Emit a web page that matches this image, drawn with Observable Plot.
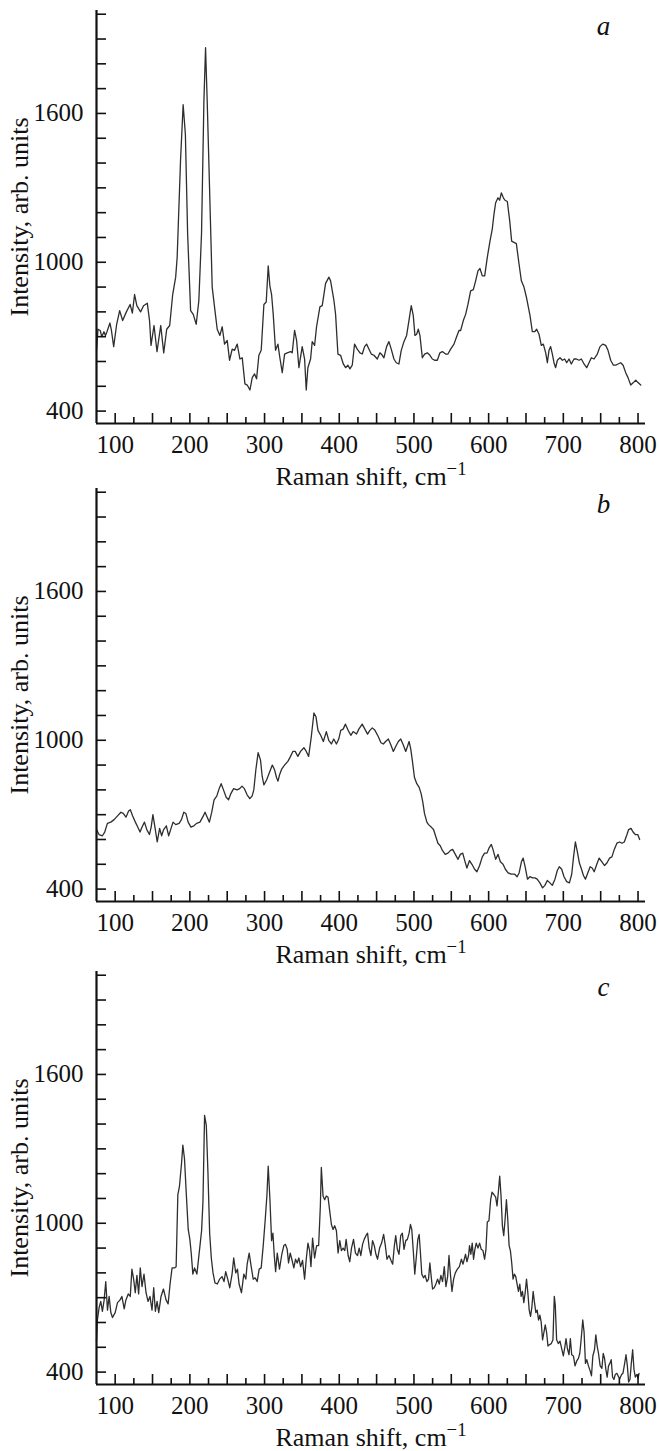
<!DOCTYPE html>
<html><head><meta charset="utf-8">
<script src="https://cdn.jsdelivr.net/npm/d3@7"></script>
<script src="https://cdn.jsdelivr.net/npm/@observablehq/plot@0.6"></script>
<style>
html,body{margin:0;padding:0;background:#fff;}
#wrap{position:relative;width:659px;height:1451px;overflow:hidden;background:#fff;}
.panel{position:absolute;left:0;width:659px;}
.panel svg, .panel svg text{font-family:"Liberation Serif","Times New Roman",serif;}
</style></head><body><div id="wrap"></div>
<script>
const shiftDomain = [75, 810];
const intensityDomain = [350, 2015];
const xTicksMajor = [100,150,200,250,300,350,400,450,500,550,600,650,700,750,800];
const xTicksMinor = [125,175,225,275,325,375,425,475,525,575,625,675,725,775];
const xTickLabels = [100,200,300,400,500,600,700,800];
const yTicks = [400,500,600,700,800,900,1000,1100,1200,1300,1400,1500,1600,1700,1800,1900,2000];
const yTickLabels = [400,1000,1600];
const panelLabels = ["a","b","c"];
const xTitleBase = "Raman shift, cm";
const xTitleSup = "−1";
const yTitle = "Intensity, arb. units";

const aShift = [75,77,80,82,85,87,89,93,95,98,102,106,110,115,120,123,126,129,134,138,143,146,148,152,156,161,165,169,173,177,181,183,187.5,191,194,197,201,204.5,208.5,212,215.6,218.8,221,223.2,226.8,229.9,233,236.6,240.2,243.3,246.4,250,253.1,256.7,259.8,263.4,267,270.1,273.7,276.8,280.4,283.5,286.6,289.3,292.4,295.5,299.1,302.2,304.9,307.1,309.4,311.6,314.7,317.9,320.5,323.7,326.8,330.4,334.8,337,340.2,342.9,346,350.4,353.6,355.8,358,361.6,363.8,367,369.6,374.1,377.2,381.7,386.2,388.4,392.9,395.1,398.2,401.8,405.4,408.5,411.6,414.3,417.4,420.5,424.1,427.7,430.8,433.9,436.6,439.7,442.9,446.4,450.9,454.5,457.6,459.8,463.4,466.5,469.6,473.2,476.3,479.9,483,486.6,490.2,493.3,496.4,499.1,501.3,503.6,505.8,508,511.2,514.3,517.9,521.4,524.6,527.7,531.3,534.8,538,542.4,545.5,549.1,553.6,557.1,560.3,562.5,566.1,569.2,572.3,575.9,579.5,582.6,585.7,588.4,591.5,594.7,598.2,601.8,604.9,607.2,609.4,612.5,614.7,617,619.7,621.9,625,628.1,630.8,633.9,637.1,640.6,643.8,647.3,650.5,653.1,655.4,658.5,661.6,664.3,667.4,670.5,673.2,676.4,678.6,680.8,683,685.3,687.5,689.7,692,695.5,698.7,701.8,704.5,707.6,710.7,714.3,717.4,721,724.1,727.7,731.3,734.4,737.5,741.1,745.5,749.1,752.7,756.7,759.8,763.4,767,770.1,773.2,776.8,780,783.5,786.6,790.2,793.8,796.9,800,803.6];
const aIntensity = [645,730,725,700,720,705,720,755,725,660,750,805,765,800,830,795,870,825,800,825,835,765,665,745,640,745,635,730,745,870,940,1020,1410,1635,1515,1115,805,790,750,845,1115,1650,1865,1650,1250,900,820,730,705,740,670,685,605,650,645,670,610,615,510,505,485,535,550,530,625,645,830,840,985,905,870,790,645,670,615,555,630,635,640,635,725,685,575,660,610,485,575,610,680,665,740,820,825,915,940,925,845,790,630,625,590,575,585,570,585,670,650,635,630,660,670,650,630,625,610,635,625,615,660,680,650,610,595,590,645,680,705,765,825,785,705,710,730,705,615,630,635,625,610,605,605,635,640,630,630,650,670,700,725,725,765,790,830,885,890,925,965,975,945,945,1020,1085,1135,1195,1240,1260,1250,1280,1260,1250,1245,1170,1085,1080,1075,995,925,900,860,820,785,720,720,730,710,665,670,635,595,645,660,630,595,575,605,615,605,610,595,610,590,610,610,605,610,590,575,595,615,610,630,660,670,665,645,605,585,585,590,595,585,555,535,505,515,525,515,505];

const bShift = [75,78.4,82.9,86,89.6,94.1,98.6,103.2,107.7,110.8,114.4,118,120.3,123.4,127,130.2,133.3,136,139.2,142.3,145.9,148.2,150.5,153.2,156.3,159.5,162.2,164.9,168.5,171.6,174.8,177.5,181.1,185.6,188.7,191.9,194.6,197.7,201.4,205.4,209,213.5,218,220.3,222.5,226.1,229.3,232.4,236,239.2,241.9,245,248.6,251.8,254.9,258.6,263.1,266.7,269.8,273,276.6,280.2,283.3,285.6,288.3,291.4,294.6,296.8,299.1,302.7,305.9,310.4,313.5,316,318,320,323.1,326.7,331.2,334.8,337.9,341,344.6,348.2,352.7,355.8,359,362.6,366.1,368.8,371.5,375.1,378.7,382.7,385.9,389.5,392.6,396.2,399.3,402,405.2,408.3,411.9,415.5,418.6,423.1,426.2,430.7,434.3,437.9,441,444.2,447.8,452.2,455.8,459,462.1,465.7,469.3,472.4,475.6,479.1,482.3,485.9,489,491.3,493.5,495.7,498,500.7,503.8,507,509.6,511.9,514.1,517.3,519.5,523.1,526.2,529.4,532.1,535.2,538.3,541.9,545.5,548.7,551.8,555.4,559,562.1,565.3,568,570.9,574.4,577.6,581.2,584.3,587.9,591.5,594.6,597.8,600.4,603.6,605.8,609.4,612.6,615.7,619.3,622.4,626,630.5,635,638.1,640.8,643.9,646.2,648.9,652,655.2,658.7,661.9,665,668.6,672.2,675.3,678.5,682.1,685.2,688.8,691.9,694.6,697.8,700.9,704.5,708.1,711.2,713.5,716.1,718.8,721.5,723.8,726.9,729.6,732.7,735.9,738.6,741.3,744.8,748,751.6,755.2,758.3,761.9,765,768.2,771.7,775.3,778.5,781.6,785.2,787.4,790.6,793.3,796.4,799.6,802.2];
const bIntensity = [640,620,615,630,665,670,680,695,710,705,690,715,720,695,670,650,630,650,670,640,620,650,700,650,590,645,615,640,655,615,645,670,660,665,680,710,705,670,650,655,665,670,695,710,695,670,710,760,775,805,825,800,770,760,785,805,800,805,815,805,780,765,775,800,880,950,920,855,820,840,865,900,880,850,835,860,885,900,915,935,955,955,935,955,970,955,935,1015,1110,1095,1040,1020,995,1035,1000,985,1005,985,1005,1040,1045,1065,1040,1020,1035,1025,1045,1065,1045,1025,1040,1050,1040,1015,990,985,995,1005,980,955,975,995,1005,980,955,975,995,965,915,850,825,810,785,750,705,670,660,650,640,610,585,575,555,540,545,555,560,540,520,540,545,515,485,515,500,480,470,495,530,545,545,565,580,560,520,540,510,500,480,465,460,460,450,465,510,525,490,440,450,445,445,440,425,405,415,435,425,415,440,475,490,480,450,430,425,460,525,590,550,505,485,455,440,465,490,485,470,500,525,510,495,505,525,530,560,585,590,585,590,620,640,645,630,620,620,600];

const cShift = [75,76.2,78.5,80.7,82.9,85.2,87.4,89.7,91.9,94.2,96.4,100,103.1,106.3,109,112.1,114.3,117.5,120.2,122.4,124.7,126.9,129.1,131.4,133.6,135.9,138.6,141.3,144,146.6,149.3,151.6,153.8,156.1,158.3,161.4,164.6,168.2,170.9,173.5,176.2,179.4,181.6,183.9,186.1,188.8,190.6,192.8,195.1,197.8,200,201.8,204,206.3,209.4,213,215.7,217.5,219.7,222,224.2,226.5,228.7,231,233.6,236.8,239.9,243,245.7,248,250.7,253.4,256.5,258.7,261.4,263.7,265.9,269.1,272.2,274.9,276.7,279.4,282.1,284.8,287.4,290.1,292.8,295.5,298.2,300.9,303.1,304.9,307.2,309.4,311.2,313,314.8,317,320,323.1,325.8,328,330.3,332.1,334.3,336.5,339.2,341.5,343.7,345.9,348.2,350.9,353.6,355.8,358.1,360.3,362.1,364.3,367,369.7,372.4,374.7,376,378.3,380.5,382.7,385,387.2,389.5,391.7,393.9,396.2,398.4,400.7,402.9,405.2,407.4,409.2,411.9,414.1,416.4,419.1,421.7,424.4,426.7,428.9,431.2,433.4,435.7,437.9,440.1,442.4,444.6,446.9,449.1,451.3,454,456.7,459.4,461.7,463.9,466.6,469.3,471.5,473.8,475.6,477.8,480,482.3,484.5,486.7,489,491.2,493.5,495.3,497.1,499.3,501.1,502.9,505.2,507,508.7,510.5,512.8,515,517.3,519.5,521.3,523.1,524.9,527.1,529.4,531.6,533.9,536.1,538.3,540.6,542.8,545.1,546.9,549.1,550.9,553.1,555.4,558.1,560.8,563.5,565.7,569.1,570.9,573.1,574.4,576.2,578,579.8,581.6,583.4,585.7,587.9,590.1,592.4,594.6,596.4,598.2,600.4,602.7,604.5,607.2,609.4,611.2,613,614.8,616.6,618.4,620.2,622,623.8,625.6,627.4,629.1,630.9,632.7,634.5,636.3,638.1,639.9,641.7,643.5,645.3,647.1,648.9,650.7,652.5,654.3,656.1,657.8,659.6,661.4,663.2,665,666.8,668.6,670.4,672.2,674,675.8,677.6,679.4,681.2,683.9,686.1,687.9,689.2,691,693.3,695.5,697.8,700,702.2,703.6,705.4,707.6,709.4,711.2,713.5,715.7,717.9,720.2,722,723.8,726,727.8,729.6,731.4,733.6,735.9,737.7,739.5,741.7,743.5,745.3,747.1,749.3,751.6,753.4,755.2,757,758.7,760.5,762.3,764.1,765.9,767.7,769.5,771.7,774,775.8,778,779.8,782.1,783.9,785.7,787.4,789.2,791,792.8,794.6,796.4,798.2,800,801.3];
const cIntensity = [525,610,660,685,645,690,765,650,705,640,620,640,680,690,705,655,690,715,705,815,775,720,790,715,820,745,795,720,685,705,650,740,645,685,640,705,735,690,675,755,820,820,825,1115,1150,1240,1315,1260,1125,975,935,880,795,820,795,895,970,1085,1435,1395,1205,960,860,800,760,755,775,785,765,805,775,740,795,860,800,815,755,720,795,775,835,880,825,775,780,765,815,820,910,1015,1110,1230,1095,930,960,870,805,880,815,875,910,915,895,840,880,855,820,855,840,860,825,850,775,855,920,890,825,940,860,910,910,1070,1225,1110,1095,1110,1105,1050,995,975,990,970,880,930,890,900,890,935,870,845,900,935,880,870,900,870,915,935,950,960,900,870,930,910,875,855,900,920,955,910,855,870,850,835,910,950,895,875,950,960,895,930,935,960,995,975,880,795,855,935,955,880,795,780,790,765,775,840,785,735,740,755,775,755,790,765,825,745,785,870,785,725,775,800,815,825,855,835,875,845,870,910,875,920,855,895,920,900,920,895,890,855,895,1005,1010,1095,1125,1115,1105,1070,1125,1190,1110,990,950,1015,1095,1015,910,890,840,775,795,785,755,725,755,705,725,680,720,775,720,650,625,660,725,680,640,650,610,630,600,530,560,590,560,505,510,515,530,705,670,530,515,525,495,465,505,535,495,470,535,470,465,425,445,455,475,530,610,560,435,450,425,405,385,465,490,550,505,475,425,415,475,455,410,380,425,435,450,380,370,390,395,380,375,390,395,435,470,425,360,370,435,490,410,380,390,375,395];

const series = [[aShift, aIntensity], [bShift, bIntensity], [cShift, cIntensity]];
const tops = [0, 478, 961];

const W = 659, H = 490, mL = 96, mR = 14, mT = 10, mB = 67;
const frameW = W - mL - mR, frameH = H - mT - mB;
const ink = "#111";
const serif = "'Liberation Serif', 'Times New Roman', serif";
const wrap = document.getElementById("wrap");

series.forEach(([xs, ys], k) => {
  const data = xs.map((x, i) => ({shift: x, intensity: ys[i]}));
  const svg = Plot.plot({
    width: W, height: H,
    marginLeft: mL, marginRight: mR, marginTop: mT, marginBottom: mB,
    style: "background: transparent; overflow: visible; font-family: 'Liberation Serif', 'Times New Roman', serif; color: #111;",
    x: {domain: shiftDomain, label: null},
    y: {domain: intensityDomain, label: null},
    marks: [
      Plot.line(data, {x: "shift", y: "intensity", stroke: "#2e2e2e", strokeWidth: 1.3}),
      Plot.tickX(xTicksMajor, {x: d => d, insetTop: frameH - 10, stroke: ink, strokeWidth: 1.6}),
      Plot.tickX(xTicksMinor, {x: d => d, insetTop: frameH - 6, stroke: ink, strokeWidth: 1.6}),
      Plot.tickY(yTicks, {y: d => d, insetRight: frameW - 10, stroke: ink, strokeWidth: 1.6}),
      Plot.ruleX([shiftDomain[0]], {stroke: ink, strokeWidth: 2.2}),
      Plot.ruleY([intensityDomain[0]], {stroke: ink, strokeWidth: 2.2}),
      Plot.axisX(xTickLabels, {anchor: "bottom", tickSize: 0, tickPadding: 12, fontSize: 25, fontFamily: serif, label: null, tickFormat: d => String(d), fill: ink}),
      Plot.axisY(yTickLabels, {anchor: "left", tickSize: 0, tickPadding: 13, fontSize: 25, fontFamily: serif, label: null, tickFormat: d => String(d), fill: ink}),
      Plot.text([xTitleBase], {text: d => d, frameAnchor: "bottom", dy: 61, lineAnchor: "bottom", textAnchor: "middle", fontSize: 26, fontFamily: serif, fill: ink}),
      Plot.text([yTitle], {text: d => d, frameAnchor: "left", dx: -69, rotate: -90, lineAnchor: "bottom", textAnchor: "middle", fontSize: 26, fontFamily: serif, fill: ink}),
      Plot.text([panelLabels[k]], {text: d => d, frameAnchor: "top-right", dx: -42, dy: 24, lineAnchor: "bottom", textAnchor: "middle", fontSize: 27, fontFamily: serif, fontStyle: "italic", fill: ink})
    ]
  });
  d3.select(svg).attr("font-family", serif);
  d3.select(svg).selectAll("text").each(function() {
    if (this.textContent === xTitleBase) {
      d3.select(this).append("tspan").attr("dy", "-0.5em").attr("font-size", "0.72em").text(xTitleSup);
    }
  });
  const div = document.createElement("div");
  div.className = "panel";
  div.style.top = tops[k] + "px";
  div.appendChild(svg);
  wrap.appendChild(div);
});
</script>
</body></html>
